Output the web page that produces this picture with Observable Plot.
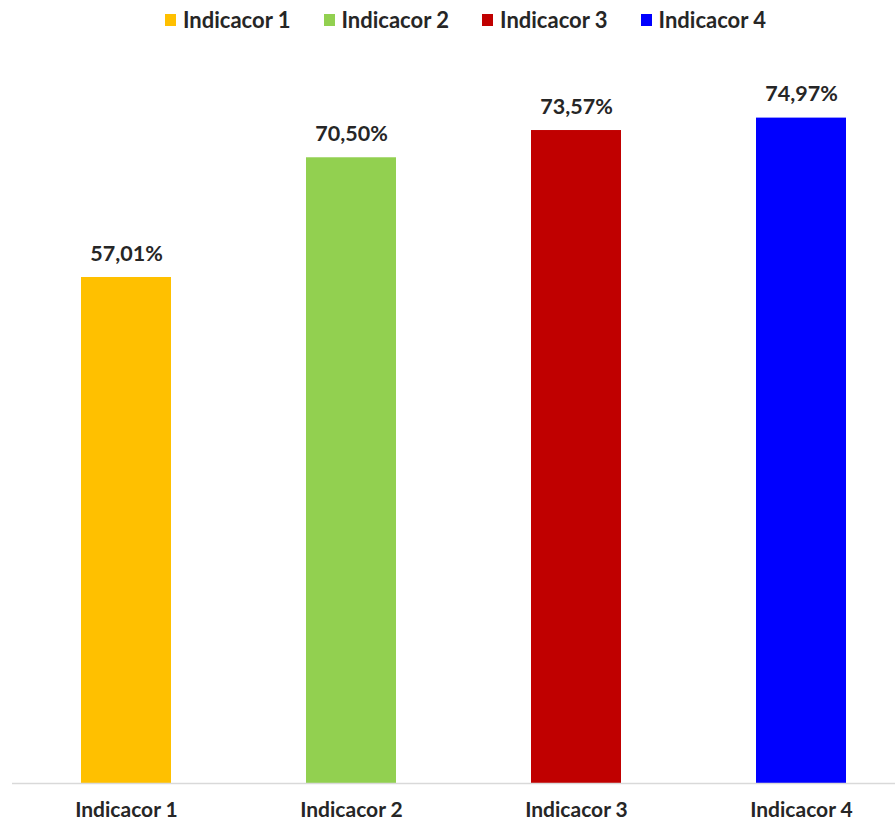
<!DOCTYPE html>
<html>
<head>
<meta charset="utf-8">
<script src="https://cdn.jsdelivr.net/npm/d3@7"></script>
<script src="https://cdn.jsdelivr.net/npm/@observablehq/plot@0.6"></script>
<style>
  html, body { margin: 0; padding: 0; background: #fff; }
  #wrap { position: relative; width: 895px; height: 824px; overflow: hidden; }
  #legend { position: absolute; top: 6px; left: 165px; display: flex; gap: 33px; align-items: center;
            font-family: Lato, "Open Sans", sans-serif; font-weight: 700; font-size: 22px; color: #262626; white-space: nowrap; }
  #legend .item { display: flex; align-items: center; gap: 7px; }
  #legend .sw { width: 11px; height: 12px; display: inline-block; }
  #chart { position: absolute; top: 0; left: 0; }
</style>
</head>
<body>
<div id="wrap">
  <div id="chart"></div>
  <div id="legend"></div>
</div>
<script>
const categories = ["Indicacor 1", "Indicacor 2", "Indicacor 3", "Indicacor 4"];
const values = [57.01, 70.50, 73.57, 74.97];
const colors = ["#FFC000", "#92D050", "#C00000", "#0000FF"];

const data = categories.map((c, i) => ({ cat: c, value: values[i], color: colors[i] }));
const fmt = v => v.toFixed(2).replace(".", ",") + "%";

const legend = document.getElementById("legend");
categories.forEach((c, i) => {
  const it = document.createElement("div");
  it.className = "item";
  const sw = document.createElement("span");
  sw.className = "sw";
  sw.style.background = colors[i];
  const t = document.createElement("span");
  t.textContent = c;
  it.appendChild(sw); it.appendChild(t);
  legend.appendChild(it);
});

const chart = Plot.plot({
  width: 895,
  height: 824,
  marginTop: 0,
  marginBottom: 41,
  marginLeft: 12,
  marginRight: 0,
  style: { fontFamily: "Lato, 'Open Sans', sans-serif", background: "#fff", overflow: "visible" },
  x: { domain: categories, range: [12.4, 913.6], paddingInner: 0.6, paddingOuter: 0.3, align: 0.5, label: null },
  y: { domain: [0, 88.22], axis: null },
  marks: [
    Plot.barY(data, { x: "cat", y: "value", fill: "color" }),
    Plot.ruleY([0], { stroke: "#d9d9d9", strokeWidth: 1.5 }),
    Plot.text(data, { x: "cat", y: "value", text: d => fmt(d.value), dy: -17, lineAnchor: "bottom",
      fontSize: 21.5, fontWeight: 700, fill: "#262626" }),
    Plot.axisX({ tickSize: 0, tickPadding: 19, fontSize: 21, fontWeight: 700, color: "#262626", label: null })
  ]
});
document.getElementById("chart").appendChild(chart);
</script>
</body>
</html>
